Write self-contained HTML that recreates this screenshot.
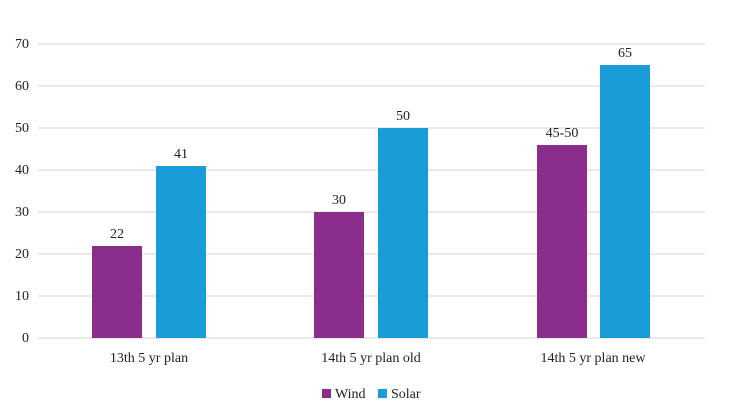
<!DOCTYPE html>
<html><head><style>
body{margin:0;background:#fff}
svg text{font-family:"Liberation Serif",serif;font-size:14px;fill:#222}
</style></head><body>
<svg width="730" height="409" viewBox="0 0 730 409">
<g stroke="#e2e2e2" stroke-width="1.5">
<line x1="38" x2="705" y1="338" y2="338"/>
<line x1="38" x2="705" y1="296" y2="296"/>
<line x1="38" x2="705" y1="254" y2="254"/>
<line x1="38" x2="705" y1="212" y2="212"/>
<line x1="38" x2="705" y1="170" y2="170"/>
<line x1="38" x2="705" y1="128" y2="128"/>
<line x1="38" x2="705" y1="86" y2="86"/>
<line x1="38" x2="705" y1="44" y2="44"/>
</g>
<g text-anchor="end">
<text x="29" y="342">0</text><text x="29" y="300">10</text><text x="29" y="258">20</text>
<text x="29" y="216">30</text><text x="29" y="174">40</text><text x="29" y="132">50</text>
<text x="29" y="90">60</text><text x="29" y="48">70</text>
</g>
<g fill="#8B2D8B">
<rect x="92" y="246" width="50" height="92"/>
<rect x="314" y="212" width="50" height="126"/>
<rect x="537" y="145" width="50" height="193"/>
</g>
<g fill="#1A9CD8">
<rect x="156" y="166" width="50" height="172"/>
<rect x="378" y="128" width="50" height="210"/>
<rect x="600" y="65" width="50" height="273"/>
</g>
<g text-anchor="middle">
<text x="117" y="238">22</text><text x="181" y="158">41</text>
<text x="339" y="204">30</text><text x="403" y="120">50</text>
<text x="562" y="137">45-50</text><text x="625" y="57">65</text>
<text x="149" y="362">13th 5 yr plan</text>
<text x="371" y="362">14th 5 yr plan old</text>
<text x="593" y="362">14th 5 yr plan new</text>
</g>
<rect x="322" y="389" width="9" height="9" fill="#8B2D8B"/>
<text x="335" y="398">Wind</text>
<rect x="378" y="389" width="9" height="9" fill="#1A9CD8"/>
<text x="391" y="398">Solar</text>
</svg>
</body></html>
